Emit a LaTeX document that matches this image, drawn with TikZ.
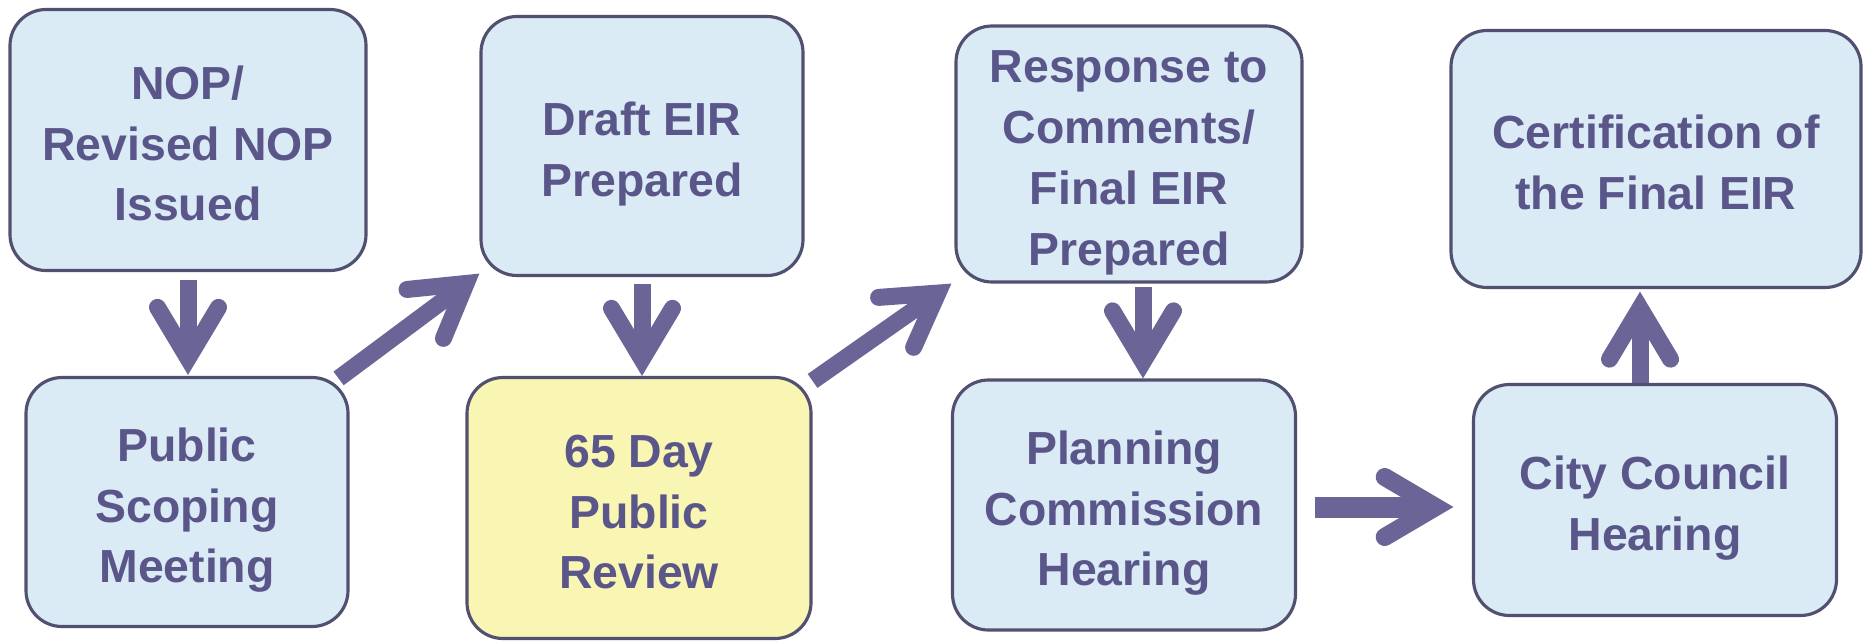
\documentclass[tikz,border=0pt]{standalone}
\usepackage{fontspec}
\setmainfont{Liberation Sans}
\usetikzlibrary{arrows.meta}
\definecolor{boxblue}{RGB}{218,235,246}
\definecolor{boxyellow}{RGB}{248,246,178}
\definecolor{edgecol}{RGB}{82,80,112}
\definecolor{txtcol}{RGB}{90,86,138}
\definecolor{arrcol}{RGB}{106,101,150}
\newcommand\stagetop{\rule{0pt}{5mm}}
\newcommand\stagebot{\rule[-1mm]{0pt}{1mm}}
\begin{document}
\begin{tikzpicture}[x=0.1mm,y=-0.1mm,
  stage/.style={draw=edgecol, line width=0.9pt, fill=boxblue, rounded corners=3.6mm,
    align=center, text=txtcol, font=\fontsize{13.2}{17.3}\selectfont\bfseries, inner sep=0pt},
  flow/.style={draw=arrcol, line width=1.7mm,
    -{Straight Barb[length=5.1mm,width=6.1mm,line cap=round,line join=miter]}},
  wideflow/.style={draw=arrcol, line width=2.1mm,
    -{Straight Barb[length=5.1mm,width=6.0mm,line width=1.8mm,line cap=round,line join=miter]}}]
\useasboundingbox (0,0) rectangle (1863,643);
\fill[white] (0,0) rectangle (1863,643);

\node[stage, minimum width=35.6mm, minimum height=26.1mm] (nop) at (188,140) {\stagetop NOP/\\Revised NOP\\Issued\stagebot};
\node[stage, minimum width=32.2mm, minimum height=24.9mm] (scope) at (187,502) {\stagetop Public\\Scoping\\Meeting\stagebot};
\node[stage, minimum width=32.2mm, minimum height=25.9mm] (draft) at (642,146) {\stagetop Draft EIR\\Prepared\stagebot};
\node[stage, fill=boxyellow, minimum width=34.4mm, minimum height=26.1mm] (review) at (639,508) {\stagetop 65 Day\\Public\\Review\stagebot};
\node[stage, minimum width=34.6mm, minimum height=25.6mm] (resp) at (1129,154) {\stagetop Response to\\Comments/\\Final EIR\\Prepared\stagebot};
\node[stage, minimum width=34.3mm, minimum height=25.0mm] (plan) at (1124,505) {\stagetop Planning\\Commission\\Hearing\stagebot};
\node[stage, minimum width=41.0mm, minimum height=25.7mm] (cert) at (1656,159) {\stagetop Certification of\\the Final EIR\stagebot};
\node[stage, minimum width=36.3mm, minimum height=23.1mm] (city) at (1655,500) {\stagetop City Council\\Hearing\stagebot};

\draw[flow, shorten <=0.8mm, shorten >=0.1mm] (nop.south) -- (nop.south |- scope.north);
\draw[flow] ([xshift=-1.1mm,yshift=-0.25mm]scope.north east) -- ([yshift=0.35mm]draft.south west);
\draw[flow, shorten <=0.65mm] (draft.south) -- (draft.south |- review.north);
\draw[flow] ([yshift=-0.5mm]review.north east) -- ([xshift=-0.3mm]resp.south west);
\draw[flow, shorten <=0.3mm] ([xshift=1.4mm]resp.south) -- ([xshift=1.4mm]resp.south |- plan.north);
\draw[wideflow, shorten <=1.75mm, shorten >=1.85mm] ([yshift=-0.2mm]plan.east) -- ([yshift=-0.2mm]plan.east -| city.west);
\draw[flow, shorten >=0.25mm] ([xshift=-1.5mm]city.north) -- ([xshift=-1.5mm]city.north |- cert.south);
\end{tikzpicture}
\end{document}
